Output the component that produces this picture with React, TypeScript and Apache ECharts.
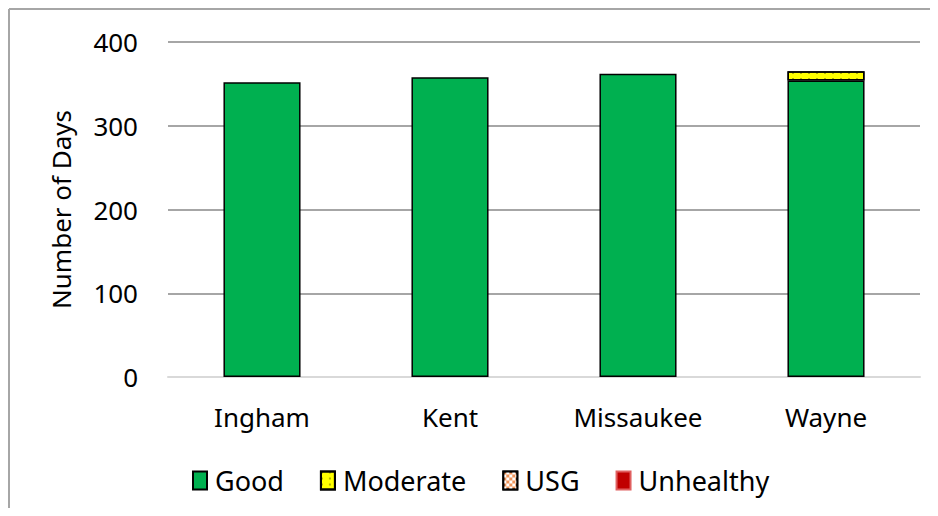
import React, { useEffect, useRef } from "react";
import * as echarts from "echarts";

const categories = ["Ingham", "Kent", "Missaukee", "Wayne"];
const goodDays = [352, 358, 362, 354];
const moderateDays = [0, 0, 0, 11];
const usgDays = [0, 0, 0, 0];
const unhealthyDays = [0, 0, 0, 0];
const yTicks = [0, 100, 200, 300, 400];

const FONT = "Noto Sans";

export default function App() {
  const ref = useRef<HTMLDivElement>(null);
  useEffect(() => {
    if (!ref.current) return;
    const chart = echarts.init(ref.current, null, { renderer: "svg" });
    const nz = (arr: number[]) => arr.map((v) => (v === 0 ? null : v));
    const border = { borderColor: "#000", borderWidth: 1.5 };
    chart.setOption({
      animation: false,
      textStyle: { fontFamily: FONT },
      graphic: [
        { type: "line", shape: { x1: 9, y1: 9, x2: 938, y2: 9 }, style: { stroke: "#A6A6A6", lineWidth: 2 } },
        { type: "line", shape: { x1: 9, y1: 9, x2: 9, y2: 516 }, style: { stroke: "#A6A6A6", lineWidth: 2 } },
      ],
      grid: { left: 168, right: 18, top: 42, bottom: 139 },
      legend: {
        bottom: 17,
        left: 187,
        icon: "rect",
        itemWidth: 14,
        itemHeight: 18,
        itemGap: 36,
        textStyle: { fontSize: 27, color: "#000", fontFamily: FONT, padding: [0, 0, 0, 3] },
        data: ["Good", "Moderate", "USG", "Unhealthy"],
      },
      xAxis: {
        type: "category",
        data: categories,
        axisLine: { lineStyle: { color: "#D9D9D9", width: 2 } },
        axisTick: { show: false },
        axisLabel: { fontSize: 26, color: "#000", margin: 27, fontFamily: FONT },
      },
      yAxis: {
        type: "value",
        min: yTicks[0],
        max: yTicks[yTicks.length - 1],
        interval: 100,
        name: "Number of Days",
        nameLocation: "middle",
        nameGap: 94,
        nameTextStyle: { fontSize: 26, color: "#000", fontFamily: FONT },
        axisLine: { show: false },
        axisTick: { show: false },
        axisLabel: { fontSize: 26, color: "#000", margin: 30, fontFamily: FONT },
        splitLine: { lineStyle: { color: "#A6A6A6", width: 2 } },
      },
      series: [
        {
          name: "Good",
          type: "bar",
          stack: "days",
          barWidth: "41%",
          data: nz(goodDays),
          itemStyle: { color: "#00B050", ...border },
        },
        {
          name: "Moderate",
          type: "bar",
          stack: "days",
          data: nz(moderateDays),
          itemStyle: {
            color: "#FFFF00",
            ...border,
            decal: {
              symbol: "rect",
              symbolSize: 0.6,
              color: "#000",
              dashArrayX: [[2, 6]],
              dashArrayY: [2, 4],
              rotation: 0,
            },
          },
        },
        {
          name: "USG",
          type: "bar",
          stack: "days",
          data: nz(usgDays),
          itemStyle: {
            color: "#F0955A",
            ...border,
            decal: {
              symbol: "rect",
              symbolSize: 1,
              color: "#FFFFFF",
              dashArrayX: [[3, 3], [0, 3, 3, 0]],
              dashArrayY: [3, 0],
              rotation: 0,
            },
          },
        },
        {
          name: "Unhealthy",
          type: "bar",
          stack: "days",
          data: nz(unhealthyDays),
          itemStyle: { color: "#C00000", borderColor: "#E06060", borderWidth: 1 },
        },
      ],
    });
    return () => chart.dispose();
  }, []);
  return <div ref={ref} style={{ width: 938, height: 516, margin: -8 }} />;
}
